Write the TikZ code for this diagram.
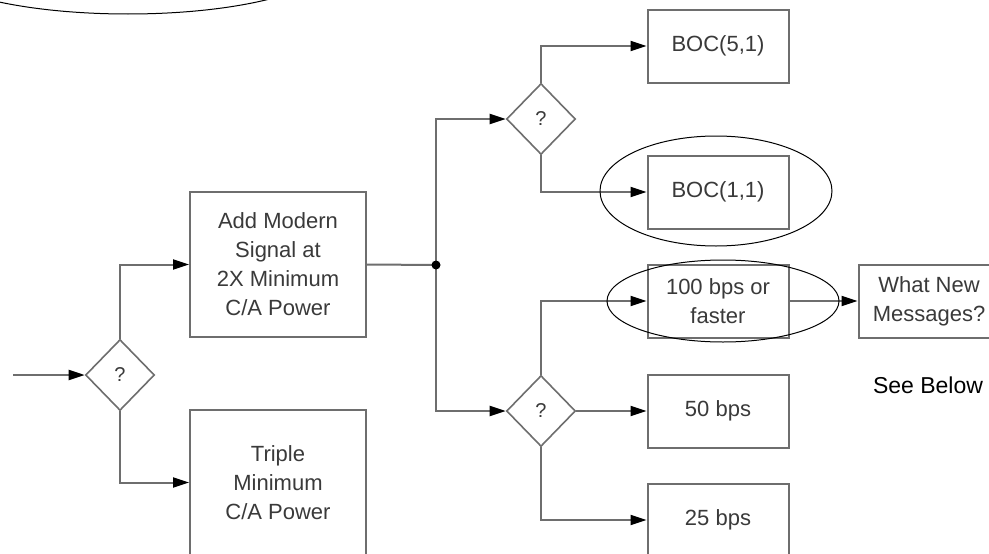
\documentclass[tikz,border=0pt]{standalone}
\usepackage{fontspec}
\setmainfont{Liberation Sans}
\usetikzlibrary{
  arrows.meta,
  shapes.geometric
}
\definecolor{flowInk}{HTML}{3A3A3A}
\definecolor{flowLine}{HTML}{6E6E6E}
\tikzset{
  every node/.style={font=\fontsize{22}{29}\selectfont, text=flowInk},
  box/.style={
    draw=flowLine,
    line width=2pt,
    fill=white,
    align=center,
    inner sep=0pt
  },
  small box/.style={
    box,
    minimum width=141pt,
    minimum height=73pt
  },
  big box/.style={
    box,
    minimum width=176pt,
    minimum height=145pt
  },
  choice/.style={
    diamond,
    draw=flowLine,
    line width=1.6pt,
    fill=white,
    minimum width=69pt,
    minimum height=71pt,
    inner sep=0pt,
    font=\fontsize{20}{24}\selectfont
  },
  link/.style={
    -{Triangle[length=16pt,width=10pt,color=black]},
    line width=2pt,
    draw=flowLine
  },
  ring/.style={
    draw=black,
    line width=1pt
  }
}

\begin{document}
\begin{tikzpicture}[x=1pt,y=-1pt]
  \fill[white] (0,0) rectangle (989,554);
  \useasboundingbox (0,0) rectangle (989,554);
  \clip (0,0) rectangle (989,554);

  % first choice and the two power options
  \coordinate (in) at (13,375);
  \node[choice] (q1) at (120,375) {?};
  \node[big box] (add) at (278,264.5) {Add Modern\\Signal at\\2X Minimum\\C/A Power};
  \node[big box] (triple) at (278,482.5) {Triple\\Minimum\\C/A Power};

  % split after the modern signal
  \coordinate (junc) at (436,265);
  \node[choice] (q2) at (541,119) {?};
  \node[choice] (q3) at (541,411) {?};

  \node[small box] (boc51) at (718,46) {BOC(5,1)};
  \node[small box] (boc11) at (718,192) {BOC(1,1)};
  \node[small box] (fast) at (718,301) {100 bps or\\faster};
  \node[small box] (bps50) at (718,411) {50 bps};
  \node[small box] (bps25) at (718,520) {25 bps};
  \node[small box] (msgs) at (929,301) {What New\\Messages?};

  \node[text=black, font=\fontsize{23}{28}\selectfont] (see) at (928,385) {See Below};

  % connectors
  \draw[link] (in) -- (q1.west);
  \draw[link] (q1.north) |- (add.west);
  \draw[link] (q1.south) |- (triple.west);
  \draw[link, -] (add.east) -- (junc);
  \draw[link] (junc) |- (q2.west);
  \draw[link] (junc) |- (q3.west);
  \fill[black] (junc) circle (4.5pt);

  \foreach \src/\dst in {q2.north/boc51, q2.south/boc11, q3.north/fast,
                         q3.east/bps50, q3.south/bps25, fast.east/msgs}{
    \draw[link] (\src) |- (\dst.west);
  }

  % highlight rings
  \draw[ring] (716,191) ellipse [x radius=116pt, y radius=55pt];
  \draw[ring] (723,301) ellipse [x radius=116pt, y radius=41pt];
  \draw[ring] (128,-40) ellipse [x radius=205pt, y radius=54pt];
\end{tikzpicture}
\end{document}
